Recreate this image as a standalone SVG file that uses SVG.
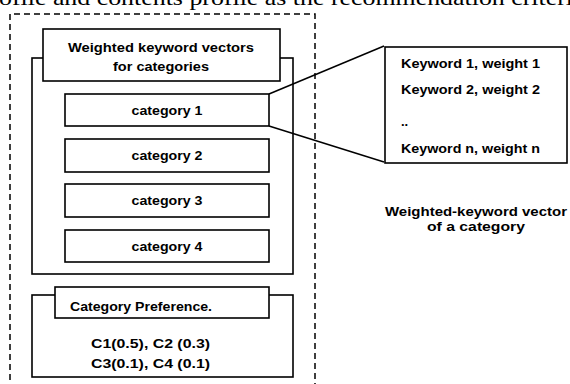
<svg xmlns="http://www.w3.org/2000/svg" width="570" height="384" viewBox="0 0 570 384">
<style>
.box{fill:#fff;stroke:#000;stroke-width:1.6}
.t{font-family:"Liberation Sans",Arial,sans-serif;font-size:13px;font-weight:bold;fill:#000}
.c{text-anchor:middle}
.dash{fill:none;stroke:#000;stroke-width:1.5;stroke-dasharray:6,4}
.ln{fill:none;stroke:#000;stroke-width:1.5}
</style>
<rect width="570" height="384" fill="#fff"/>
<text x="-1" y="5" font-family="Liberation Serif,serif" font-size="21" textLength="574" lengthAdjust="spacingAndGlyphs">ofile and contents profile as the recommendation criteri</text>
<g id="outer">
<path class="dash" d="M10,390 V14 H315 V390"/>
</g>
<g id="container">
<rect class="box" x="32" y="58" width="261" height="216"/>
</g>
<g id="header">
<rect class="box" x="43" y="29" width="237" height="52"/>
<text class="t c" x="161" y="52" textLength="186" lengthAdjust="spacingAndGlyphs">Weighted keyword vectors</text>
<text class="t c" x="161" y="71" textLength="96" lengthAdjust="spacingAndGlyphs">for categories</text>
</g>
<g id="cat1">
<rect class="box" x="65" y="94" width="204" height="32"/>
<text class="t c" x="167" y="115" textLength="71" lengthAdjust="spacingAndGlyphs">category 1</text>
</g>
<g id="cat2">
<rect class="box" x="65" y="139" width="204" height="33"/>
<text class="t c" x="167" y="160" textLength="71" lengthAdjust="spacingAndGlyphs">category 2</text>
</g>
<g id="cat3">
<rect class="box" x="65" y="184" width="204" height="33"/>
<text class="t c" x="167" y="205" textLength="71" lengthAdjust="spacingAndGlyphs">category 3</text>
</g>
<g id="cat4">
<rect class="box" x="65" y="230" width="204" height="32"/>
<text class="t c" x="167" y="251" textLength="71" lengthAdjust="spacingAndGlyphs">category 4</text>
</g>
<g id="preference">
<rect class="box" x="32" y="295" width="261" height="82"/>
<rect class="box" x="55" y="287" width="214" height="31"/>
<text class="t" x="70" y="311" textLength="142" lengthAdjust="spacingAndGlyphs">Category Preference.</text>
<text class="t" x="91" y="348" textLength="119" lengthAdjust="spacingAndGlyphs">C1(0.5), C2 (0.3)</text>
<text class="t" x="91" y="368" textLength="119" lengthAdjust="spacingAndGlyphs">C3(0.1), C4 (0.1)</text>
</g>
<g id="connectors">
<line class="ln" x1="269" y1="94" x2="384" y2="46"/>
<line class="ln" x1="269" y1="126" x2="384" y2="162"/>
</g>
<g id="vector">
<rect class="box" x="385" y="47" width="182" height="116"/>
<text class="t" x="401" y="68" textLength="139" lengthAdjust="spacingAndGlyphs">Keyword 1, weight 1</text>
<text class="t" x="401" y="94" textLength="139" lengthAdjust="spacingAndGlyphs">Keyword 2, weight 2</text>
<text class="t" x="401" y="126">..</text>
<text class="t" x="401" y="153" textLength="139" lengthAdjust="spacingAndGlyphs">Keyword n, weight n</text>
</g>
<g id="caption">
<text class="t c" x="476" y="216" font-size="12" textLength="182" lengthAdjust="spacingAndGlyphs">Weighted-keyword vector</text>
<text class="t c" x="476" y="231" font-size="12" textLength="98" lengthAdjust="spacingAndGlyphs">of a category</text>
</g>
</svg>
